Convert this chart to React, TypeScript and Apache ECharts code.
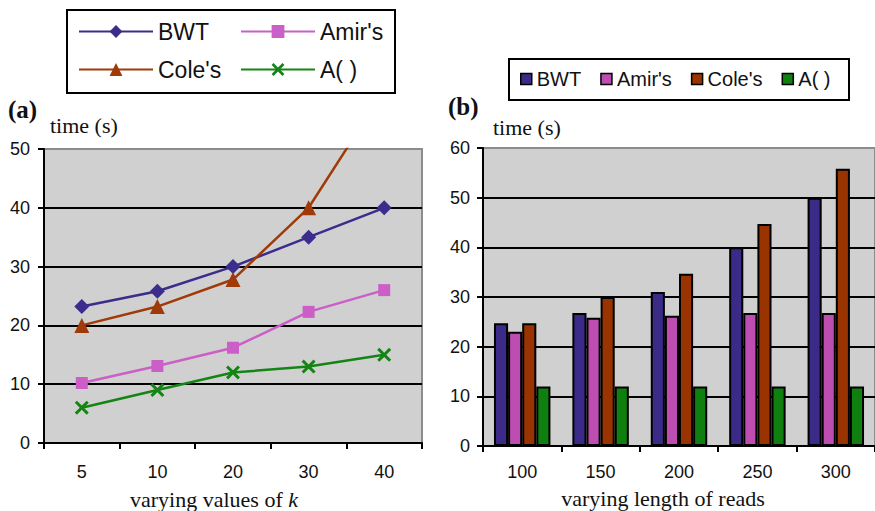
import React, { useEffect, useRef } from 'react';
import * as echarts from 'echarts';

const seriesNames = ['BWT', "Amir's", "Cole's", 'A( )'];
const kCategories = ['5', '10', '20', '30', '40'];
const readCategories = ['100', '150', '200', '250', '300'];

const kBWT = [23.2, 25.8, 30, 35, 40];
const kAmir = [10.2, 13.1, 16.2, 22.3, 26];
const kCole = [20, 23.2, 27.8, 40, 60];
const kA = [6, 9, 12, 13, 15];

const rBWT = [24.7, 26.8, 31, 40, 50];
const rAmir = [23, 25.8, 26.2, 26.8, 26.8];
const rCole = [24.7, 30, 34.7, 44.7, 55.8];
const rA = [12, 12, 12, 12, 12];

const leftMax = 50;
const rightMax = 60;
const tickStep = 10;

const barColors = ['#3B2A87', '#BD4DB0', '#993300', '#0F800F'];
const lineColors = ['#3B2D8C', '#CC5EC8', '#A03A08', '#148414'];

const SANS = '"Liberation Sans", Arial, sans-serif';
const SERIF = '"Liberation Serif", "Times New Roman", serif';

const crossPath = 'path://M3,0 L10,7 L17,0 L20,3 L13,10 L20,17 L17,20 L10,13 L3,20 L0,17 L7,10 L0,3 Z';

function valueAxis(max: number, margin: number) {
  return {
    type: 'value',
    min: 0,
    max,
    interval: tickStep,
    axisLine: { show: true, lineStyle: { color: '#000', width: 2 } },
    axisTick: { show: true, length: 6, lineStyle: { color: '#000', width: 2 } },
    axisLabel: { margin, fontSize: 18, color: '#111', fontFamily: SANS },
    splitLine: { show: true, showMaxLine: false, lineStyle: { color: '#000', width: 2 } },
  };
}

function categoryAxis(data: string[], margin: number) {
  return {
    type: 'category',
    data,
    boundaryGap: true,
    axisLine: { show: true, lineStyle: { color: '#000', width: 2 } },
    axisTick: { show: true, alignWithLabel: false, length: 6, lineStyle: { color: '#000', width: 2 } },
    axisLabel: { margin, fontSize: 18, color: '#111', fontFamily: SANS },
    splitLine: { show: false },
  };
}

function serifText(text: string, x: number, y: number, size: number, bold = false, align = 'left', rich?: any) {
  return {
    type: 'text',
    x,
    y,
    style: {
      text,
      fontSize: size,
      fontFamily: SERIF,
      fontWeight: bold ? 'bold' : 'normal',
      fill: '#111',
      align,
      verticalAlign: 'middle',
      rich,
    },
  };
}

export default function App() {
  const leftRef = useRef<HTMLDivElement>(null);
  const rightRef = useRef<HTMLDivElement>(null);

  useEffect(() => {
    const left = echarts.init(leftRef.current!, undefined, { renderer: 'svg' });
    const right = echarts.init(rightRef.current!, undefined, { renderer: 'svg' });

    const kData = [kBWT, kAmir, kCole, kA];
    const symbols = ['diamond', 'rect', 'triangle', crossPath];
    const symbolSizes = [15, 12, 15, 14];

    const legendPos = [
      [78, 20],
      [240, 20],
      [78, 58],
      [240, 58],
    ];

    left.setOption({
      animation: false,
      grid: {
        left: 44,
        top: 149,
        width: 378,
        height: 294,
        show: true,
        backgroundColor: '#d0d0d0',
        borderColor: '#8c8c8c',
        borderWidth: 2,
      },
      legend: seriesNames.map((n, i) => ({
        data: [n],
        left: legendPos[i][0],
        top: legendPos[i][1],
        padding: 0,
        itemWidth: 74,
        itemHeight: 16,
        itemGap: 0,
        selectedMode: false,
        textStyle: { fontSize: 23, fontFamily: SANS, color: '#111' },
      })),
      xAxis: categoryAxis(kCategories, 20),
      yAxis: valueAxis(leftMax, 14),
      graphic: [
        {
          type: 'rect',
          shape: { x: 67, y: 10, width: 328, height: 83 },
          style: { fill: '#fff', stroke: '#000', lineWidth: 2 },
          z: 0,
        },
        serifText('(a)', 8, 109, 25, true),
        serifText('time (s)', 50, 125, 22),
        serifText('varying values of {i|k}', 214, 499, 22, false, 'center', {
          i: { fontStyle: 'italic', fontSize: 22, fontFamily: SERIF, fill: '#111' },
        }),
      ],
      series: seriesNames.map((n, i) => ({
        name: n,
        type: 'line',
        data: kData[i],
        clip: true,
        symbol: symbols[i],
        symbolSize: symbolSizes[i],
        showAllSymbol: true,
        lineStyle: { color: lineColors[i], width: 2.5 },
        itemStyle: { color: lineColors[i] },
        z: 3 + i,
      })),
    });

    const rData = [rBWT, rAmir, rCole, rA];

    right.setOption({
      animation: false,
      grid: {
        left: 43,
        top: 148,
        width: 395,
        height: 298,
        show: true,
        backgroundColor: '#d0d0d0',
        borderColor: '#8c8c8c',
        borderWidth: 2,
      },
      legend: {
        data: seriesNames,
        left: 80,
        top: 69,
        padding: 0,
        icon: 'rect',
        itemWidth: 11,
        itemHeight: 11,
        itemGap: 19,
        selectedMode: false,
        itemStyle: { borderColor: '#000', borderWidth: 1.5 },
        textStyle: { fontSize: 20, fontFamily: SANS, color: '#111' },
      },
      xAxis: categoryAxis(readCategories, 17),
      yAxis: valueAxis(rightMax, 13),
      graphic: [
        {
          type: 'rect',
          shape: { x: 69, y: 59, width: 340, height: 41 },
          style: { fill: '#fff', stroke: '#000', lineWidth: 2 },
          z: 0,
        },
        serifText('(b)', 8, 106, 25, true),
        serifText('time (s)', 53, 127, 22),
        serifText('varying length of reads', 223, 498, 22, false, 'center'),
      ],
      series: seriesNames.map((n, i) => ({
        name: n,
        type: 'bar',
        data: rData[i],
        barGap: '0%',
        barCategoryGap: '28%',
        itemStyle: { color: barColors[i], borderColor: '#000', borderWidth: 2 },
      })),
    });

    return () => {
      left.dispose();
      right.dispose();
    };
  }, []);

  return (
    <>
      <div
        ref={leftRef}
        style={{ position: 'absolute', left: 0, top: 0, width: 440, height: 511 }}
      />
      <div
        ref={rightRef}
        style={{ position: 'absolute', left: 440, top: 0, width: 435, height: 511 }}
      />
    </>
  );
}
